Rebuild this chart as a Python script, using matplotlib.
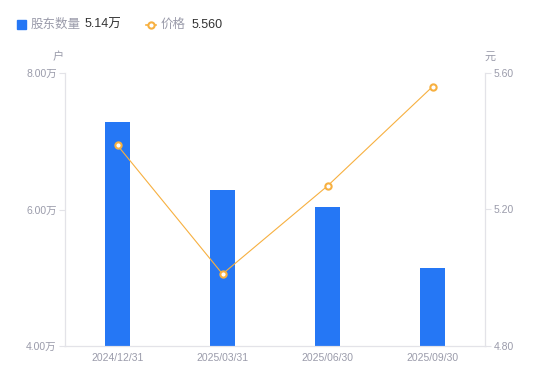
import matplotlib
matplotlib.use("Agg")
import matplotlib.pyplot as plt
from matplotlib.lines import Line2D

plt.rcParams['font.family'] = ['Liberation Sans', 'Noto Sans CJK SC', 'DejaVu Sans']

categories = ["2024/12/31", "2025/03/31", "2025/06/30", "2025/09/30"]
holders = [7.28, 6.28, 6.04, 5.14]      # 万户
price = [5.388, 5.011, 5.269, 5.560]    # 元
left_ticks = [4.0, 6.0, 8.0]
right_ticks = [4.80, 5.20, 5.60]

bar_color = "#2577F5"
line_color = "#F7B040"
axis_color = "#E3E3E8"
text_gray = "#9A9BAA"
text_dark = "#333333"

fig = plt.figure(figsize=(5.5, 3.81), dpi=100)
ax = fig.add_axes([65/550, 1 - 346/381, 420/550, 273/381])
x = list(range(len(categories)))
ax.bar(x, holders, width=0.24, color=bar_color, zorder=2)
ax.set_xlim(-0.5, len(categories) - 0.5)
ax.set_ylim(4.0, 8.0)
ax.set_yticks(left_ticks)
ax.set_yticklabels([f"{v:.2f}万" for v in left_ticks])
ax.set_xticks(x)
ax.set_xticklabels(categories)

ax2 = ax.twinx()
ax2.plot(x, price, color=line_color, lw=0.8, marker='o', ms=4.5,
         mfc='white', mec=line_color, mew=1.5, zorder=3)
ax2.set_ylim(4.80, 5.60)
ax2.set_yticks(right_ticks)
ax2.set_yticklabels([f"{v:.2f}" for v in right_ticks])

for a in (ax, ax2):
    for s in a.spines.values():
        s.set_color(axis_color)
        s.set_linewidth(0.8)
    a.spines['top'].set_visible(False)
    a.tick_params(colors=text_gray, labelsize=7.5, length=4, width=0.8, pad=2)
    a.tick_params(axis='y', color=axis_color)
ax.tick_params(axis='x', length=0, pad=5)
ax2.tick_params(axis='x', length=0)

fig.text(58/550, 1 - 57/381, "户", color=text_gray, fontsize=8, ha='center', va='center')
fig.text(490/550, 1 - 57/381, "元", color=text_gray, fontsize=8, ha='center', va='center')

# legend
fig.patches.append(plt.Rectangle((17/550, 1 - 29/381), 9/550, 9/381,
                                 transform=fig.transFigure, color=bar_color, figure=fig))
fig.text(31/550, 1 - 24.5/381, "股东数量", color=text_gray, fontsize=9, va='center')
fig.text(85/550, 1 - 24.5/381, f"{holders[-1]:.2f}万", color=text_dark, fontsize=9, va='center')
fig.lines.append(Line2D([146/550, 156/550], [1 - 24.5/381, 1 - 24.5/381],
                        transform=fig.transFigure, color=line_color, lw=1.2, figure=fig))
fig.lines.append(Line2D([151/550], [1 - 24.5/381], transform=fig.transFigure,
                        color=line_color, marker='o', ms=4.5, mfc='white',
                        mec=line_color, mew=1.5, figure=fig))
fig.text(161/550, 1 - 24.5/381, "价格", color=text_gray, fontsize=9, va='center')
fig.text(192/550, 1 - 24.5/381, f"{price[-1]:.3f}", color=text_dark, fontsize=9, va='center')

fig.savefig("out.png", dpi=100)
